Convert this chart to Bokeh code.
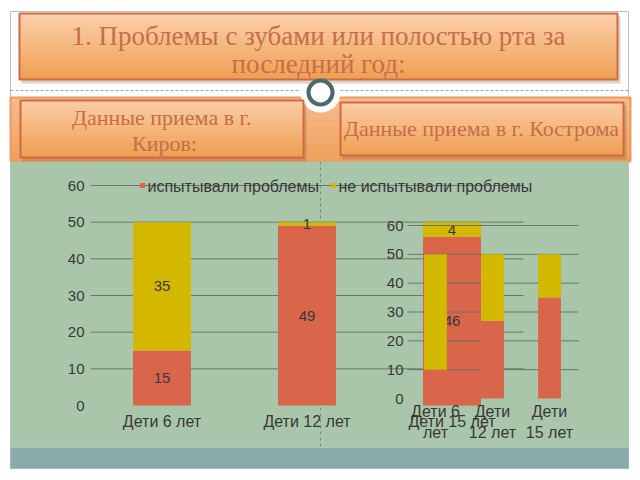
from bokeh.plotting import figure
from bokeh.models import Range1d
from bokeh.core.properties import value
from bokeh.embed import file_html
from bokeh.resources import INLINE

# ---------------- data ----------------
title_lines = ["1. Проблемы с зубами или полостью рта за", "последний год:"]
kirov_title = ["Данные приема в  г.", "Киров:"]
kostroma_title = ["Данные приема в г. Кострома"]
series = ["испытывали проблемы", "не испытывали проблемы"]

kirov_cats = ["Дети 6 лет", "Дети 12 лет", "Дети 15 лет"]
kirov_had = [15, 49, 46]
kirov_no = [35, 1, 4]

kost_cats_line1 = ["Дети 6", "Дети", "Дети"]
kost_cats_line2 = ["лет", "12 лет", "15 лет"]
kost_had = [10, 27, 35]
kost_no = [40, 23, 15]

ticks = [0, 10, 20, 30, 40, 50, 60]

# ---------------- styles ----------------
RED = "#d9654b"
YEL = "#d4b800"
GREEN = "#aac6aa"
BAND = "#8aabab"
GRID = "#687468"
TXT = "#383838"
HEAD = "#c46e4b"
SANS = "Liberation Sans"
SERIF = "Liberation Serif"
FS = "16px"
FN = "15px"

W, H = 640, 480
p = figure(width=W, height=H, x_range=Range1d(0, W), y_range=Range1d(H, 0),
           x_axis_type=None, y_axis_type=None, output_backend="svg",
           toolbar_location=None, min_border=0)
p.grid.visible = False
p.outline_line_color = None
p.background_fill_color = "white"
p.border_fill_color = "white"


def yr(pix0, ppu):
    return Range1d((pix0 - H) / ppu, pix0 / ppu)


def xr(pix0, ppu):
    return Range1d(-pix0 / ppu, (W - pix0) / ppu)


# chart scales: Kirov (0 at y=405, 60 at y=185), Kostroma (0 at y=398, 60 at y=225)
p.extra_y_ranges = {"ky": yr(405, 220 / 60), "sy": yr(398, 173 / 60)}
p.extra_x_ranges = {"kx": xr(161.5, 145), "sx": xr(435, 57)}


def gradient_box(l, r, t, b, c0, c1, n=24, border="#d06a46", shadow=True):
    if shadow:
        p.quad(left=l + 2, right=r + 3, top=t + 3, bottom=b + 4, fill_color="#7a4a30",
               fill_alpha=0.25, line_color=None)

    def mix(a, bb, f):
        return "#%02x%02x%02x" % tuple(int(a[i] + (bb[i] - a[i]) * f) for i in range(3))
    lefts, rights, tops, bottoms, cols = [], [], [], [], []
    h = (b - t) / n
    for i in range(n):
        lefts.append(l); rights.append(r)
        tops.append(t + i * h); bottoms.append(t + (i + 1) * h + 0.5)
        cols.append(mix(c0, c1, i / (n - 1)))
    p.quad(left=lefts, right=rights, top=tops, bottom=bottoms, fill_color=cols, line_color=None)
    p.quad(left=[l], right=[r], top=[t], bottom=[b], fill_color=None, line_color=border,
           line_width=2)


# slide background
p.quad(left=[10], right=[628], top=[11], bottom=[468], fill_color="white",
       line_color="#b4c4c8", line_width=1)
p.segment(x0=[10], x1=[628], y0=[90], y1=[90], line_color="#a0a8a8", line_dash="3 2", line_width=1)
gradient_box(10, 630, 97, 161, (246, 188, 138), (240, 160, 92), border="#e89a66", shadow=False)
p.quad(left=[10], right=[628], top=[161], bottom=[447], fill_color=GREEN, line_color=None)
p.quad(left=[10], right=[628], top=[447], bottom=[468], fill_color=BAND, line_color=None)
p.segment(x0=[320], x1=[320], y0=[161], y1=[447], line_color="#7d8a80", line_dash="3 3", line_width=1)

# circle halo (behind the boxes)
p.circle(x=[320], y=[92], radius=20, fill_color="white", line_color=None)

# title box
gradient_box(19, 617, 13, 79, (252, 208, 170), (240, 160, 82))
p.text(x=[318, 318], y=[35, 63], text=title_lines, text_font=value(SERIF),
       text_font_size="27px", text_color=HEAD, text_align="center", text_baseline="middle")

# circle ornament
p.circle(x=[320], y=[92], radius=12, fill_color="white", line_color="#4c6a6a", line_width=4)

# sub boxes
gradient_box(20, 303, 100, 157, (252, 205, 165), (240, 160, 82))
p.text(x=[164, 164], y=[117, 143], text=kirov_title, text_font=value(SERIF),
       text_font_size="22px", text_color=HEAD, text_align="center", text_baseline="middle")
gradient_box(340, 623, 102, 155, (252, 205, 165), (240, 160, 82))
p.text(x=[481], y=[128], text=kostroma_title, text_font=value(SERIF),
       text_font_size="22px", text_color=HEAD, text_align="center", text_baseline="middle")

# ---------------- Kirov chart ----------------
kgrid = ticks[1:]
p.segment(x0=[90] * len(kgrid), x1=[523] * len(kgrid), y0=kgrid, y1=kgrid,
          y_range_name="ky", line_color=GRID, line_width=1)
p.text(x=[84] * len(ticks), y=ticks, text=[str(t) for t in ticks], y_range_name="ky",
       text_font=value(SANS), text_font_size=FN, text_color=TXT,
       text_align="right", text_baseline="middle")
kidx = list(range(len(kirov_cats)))
ktop = [a + b for a, b in zip(kirov_had, kirov_no)]
p.vbar(x=kidx, width=0.4, bottom=0, top=kirov_had, x_range_name="kx", y_range_name="ky",
       fill_color=RED, line_color=None)
p.vbar(x=kidx, width=0.4, bottom=kirov_had, top=ktop, x_range_name="kx", y_range_name="ky",
       fill_color=YEL, line_color=None)
p.text(x=kidx, y=[h / 2 for h in kirov_had], text=[str(v) for v in kirov_had],
       x_range_name="kx", y_range_name="ky", text_font=value(SANS), text_font_size=FN,
       text_color=TXT, text_align="center", text_baseline="middle")
p.text(x=kidx, y=[h + n / 2 for h, n in zip(kirov_had, kirov_no)], text=[str(v) for v in kirov_no],
       x_range_name="kx", y_range_name="ky", text_font=value(SANS), text_font_size=FN,
       text_color=TXT, text_align="center", text_baseline="middle")
p.text(x=kidx, y=[421] * 3, text=kirov_cats, x_range_name="kx", text_font=value(SANS),
       text_font_size=FS, text_color=TXT, text_align="center", text_baseline="middle")

# legend
p.rect(x=[142, 333], y=[185, 185], width=5, height=5, fill_color=[RED, YEL], line_color=None)
p.text(x=[147, 338], y=[186, 186], text=series, text_font=value(SANS), text_font_size=FS,
       text_color=TXT, text_align="left", text_baseline="middle")

# ---------------- Kostroma chart ----------------
p.segment(x0=[407] * len(kgrid), x1=[578] * len(kgrid), y0=kgrid, y1=kgrid,
          y_range_name="sy", line_color=GRID, line_width=1)
p.text(x=[403] * len(ticks), y=ticks, text=[str(t) for t in ticks], y_range_name="sy",
       text_font=value(SANS), text_font_size=FN, text_color=TXT,
       text_align="right", text_baseline="middle")
sidx = list(range(len(kost_had)))
stop = [a + b for a, b in zip(kost_had, kost_no)]
p.vbar(x=sidx, width=0.4, bottom=0, top=kost_had, x_range_name="sx", y_range_name="sy",
       fill_color=RED, line_color=None)
p.vbar(x=sidx, width=0.4, bottom=kost_had, top=stop, x_range_name="sx", y_range_name="sy",
       fill_color=YEL, line_color=None)
p.text(x=sidx, y=[411] * 3, text=kost_cats_line1, x_range_name="sx", text_font=value(SANS),
       text_font_size=FS, text_color=TXT, text_align="center", text_baseline="middle")
p.text(x=sidx, y=[432] * 3, text=kost_cats_line2, x_range_name="sx", text_font=value(SANS),
       text_font_size=FS, text_color=TXT, text_align="center", text_baseline="middle")

open("out.html", "w").write(file_html(p, INLINE))
